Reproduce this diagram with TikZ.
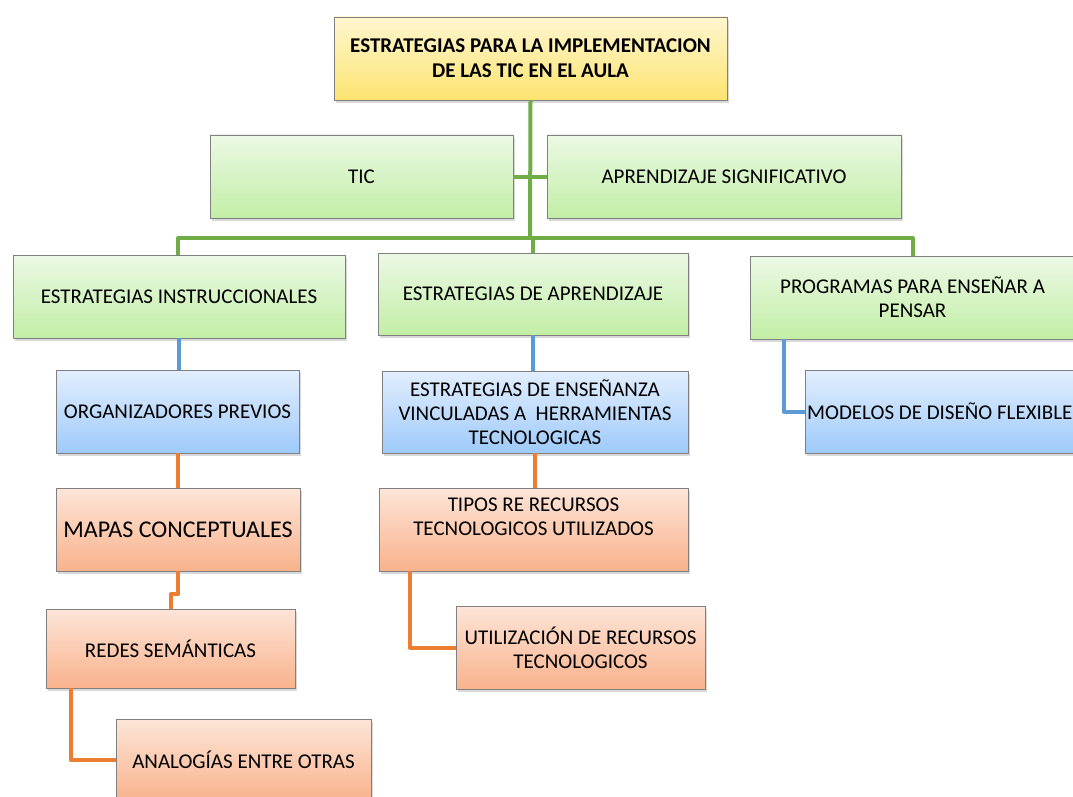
\documentclass[tikz,border=0pt]{standalone}
\usepackage{fontspec}
\setmainfont{Carlito}
\usetikzlibrary{shadows}

\definecolor{verdeA}{RGB}{236,249,229}
\definecolor{verdeB}{RGB}{194,238,166}
\definecolor{azulA}{RGB}{226,238,254}
\definecolor{azulB}{RGB}{158,202,250}
\definecolor{naranjaA}{RGB}{253,229,216}
\definecolor{naranjaB}{RGB}{249,178,140}
\definecolor{amarilloA}{RGB}{255,246,208}
\definecolor{amarilloB}{RGB}{252,228,112}
\definecolor{lverde}{RGB}{112,173,71}
\definecolor{lazul}{RGB}{91,155,213}
\definecolor{lnaranja}{RGB}{237,125,49}

\tikzset{
  caja/.style={rectangle, draw={rgb,255:red,128;green,128;blue,128}, line width=.8pt, align=center,
    inner sep=2pt, font=\fontsize{21}{24}\selectfont,
    drop shadow={opacity=.3, shadow xshift=2pt, shadow yshift=-3pt}},
  cajaverde/.style={caja, top color=verdeA, bottom color=verdeB},
  cajaazul/.style={caja, top color=azulA, bottom color=azulB},
  cajanaranja/.style={caja, top color=naranjaA, bottom color=naranjaB},
  cajaamarilla/.style={caja, top color=amarilloA, bottom color=amarilloB, font=\fontsize{21}{25}\selectfont\bfseries},
  conector/.style={line width=4pt, line join=round}
}

\begin{document}
\begin{tikzpicture}[x=1pt, y=-1pt]
\useasboundingbox (0,0) rectangle (1073,797);

\node[cajaamarilla, minimum width=393, minimum height=83] (raiz) at (530.5,58.5)
  {ESTRATEGIAS PARA LA IMPLEMENTACION\\DE LAS TIC EN EL AULA};
\node[cajaverde, minimum width=303, minimum height=83] (tic) at (361.5,176.5) {TIC};
\node[cajaverde, minimum width=354, minimum height=83] (signif) at (724,176.5) {APRENDIZAJE SIGNIFICATIVO};

\node[cajaverde, minimum width=332, minimum height=83] (instruc) at (179,296.5) {ESTRATEGIAS INSTRUCCIONALES};
\node[cajaverde, minimum width=310, minimum height=82] (aprend) at (533,294) {ESTRATEGIAS DE APRENDIZAJE};
\node[cajaverde, minimum width=325, minimum height=83] (pensar) at (912.5,297.5) {PROGRAMAS PARA ENSEÑAR A\\PENSAR};

\node[cajaazul, minimum width=243, minimum height=83] (organiz) at (177.5,411.5) {ORGANIZADORES PREVIOS};
\node[cajaazul, minimum width=306, minimum height=82] (ensenanza) at (535,412)
  {ESTRATEGIAS DE ENSEÑANZA\\VINCULADAS A\ \ HERRAMIENTAS\\TECNOLOGICAS};
\node[cajaazul, minimum width=280, minimum height=83] (modelos) at (945,411.5) {};
\node[font=\fontsize{21}{24}\selectfont, anchor=west, inner sep=0pt] (modelostxt) at (807,411.5) {MODELOS DE DISEÑO FLEXIBLE};

\node[cajanaranja, minimum width=244, minimum height=83, font=\fontsize{24}{28}\selectfont] (mapas) at (178,529.5) {MAPAS CONCEPTUALES};
\node[cajanaranja, minimum width=309, minimum height=83] (tipos) at (533.5,529.5)
  {TIPOS RE RECURSOS\\TECNOLOGICOS UTILIZADOS\\[-6pt]\strut};
\node[cajanaranja, minimum width=249, minimum height=79] (redes) at (170.5,648.5) {REDES SEMÁNTICAS};
\node[cajanaranja, minimum width=249, minimum height=83] (utiliz) at (580.5,647.5)
  {UTILIZACIÓN DE RECURSOS\\TECNOLOGICOS};
\node[cajanaranja, minimum width=255, minimum height=82] (analog) at (243.5,760) {ANALOGÍAS ENTRE OTRAS};

\coordinate (cruce) at (530,238);
\draw[conector, lverde] (raiz.south) -- (cruce);
\draw[conector, lverde] (tic.east) -- (signif.west);
\draw[conector, lverde] (instruc.north -| 178,0) |- (cruce) -| (pensar.north);
\draw[conector, lverde] (aprend.north) |- (cruce);

\draw[conector, lazul] (instruc.south) -- (instruc.south |- organiz.north);
\draw[conector, lazul] (aprend.south) -- (aprend.south |- ensenanza.north);
\draw[conector, lazul] ([xshift=34pt]pensar.south west) |- (modelos.west);

\draw[conector, lnaranja] (organiz.south) -- (organiz.south |- mapas.north);
\draw[conector, lnaranja] (mapas.south) -- ++(0,23) -| (redes.north);
\draw[conector, lnaranja] (ensenanza.south) -- (ensenanza.south |- tipos.north);
\draw[conector, lnaranja] ([xshift=31pt]tipos.south west) |- (utiliz.west);
\draw[conector, lnaranja] ([xshift=25pt]redes.south west) |- (analog.west);
\end{tikzpicture}
\end{document}
